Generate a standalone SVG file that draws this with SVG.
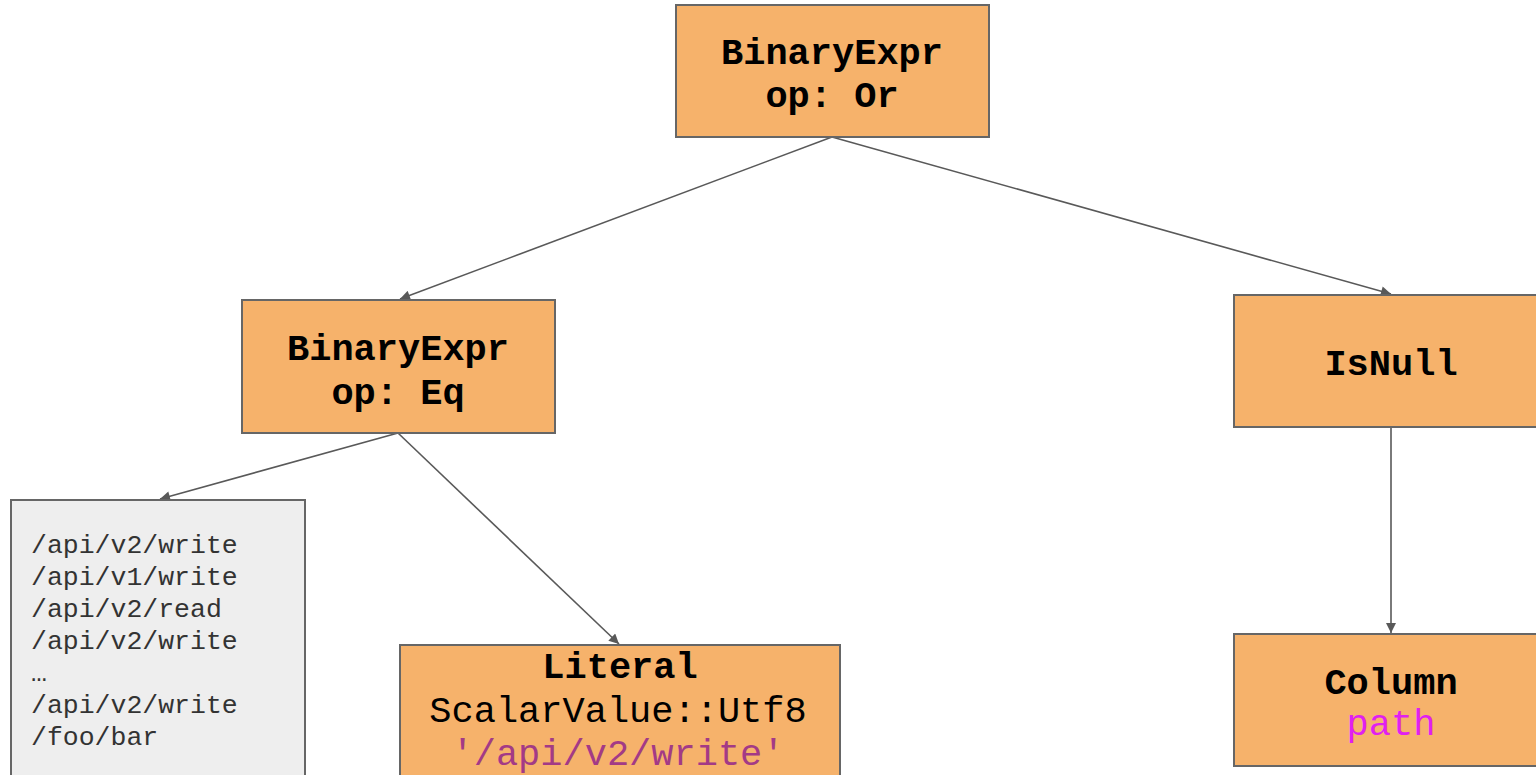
<svg xmlns="http://www.w3.org/2000/svg" width="1536" height="775" viewBox="0 0 1536 775">
<defs>
<style>
.box{fill:#f6b26b;stroke:#666666;stroke-width:2}
.grey{fill:#eeeeee;stroke:#666666;stroke-width:2}
.b{font-family:"Liberation Mono","Courier New",monospace;font-weight:bold;font-size:37px;fill:#000;text-anchor:middle}
.r{font-family:"Liberation Mono","Courier New",monospace;font-size:37px;fill:#000;text-anchor:middle}
.s{font-family:"Liberation Mono","Courier New",monospace;font-size:26.5px;fill:#333333}
.edge{stroke:#595959;stroke-width:1.6;fill:none;marker-end:url(#ah)}
</style>
<marker id="ah" viewBox="0 0 10 10" refX="10" refY="5" markerWidth="11" markerHeight="10" markerUnits="userSpaceOnUse" orient="auto">
<path d="M0,0 L10,5 L0,10 z" fill="#595959"/>
</marker>
</defs>
<rect width="1536" height="775" fill="#ffffff"/>
<g id="connectors">
<line class="edge" x1="832" y1="137" x2="400" y2="299"/>
<line class="edge" x1="832" y1="137" x2="1391" y2="294"/>
<line class="edge" x1="398" y1="433" x2="160" y2="499"/>
<line class="edge" x1="398" y1="433" x2="619" y2="644"/>
<line class="edge" x1="1391" y1="427" x2="1391" y2="633"/>
</g>
<g id="root">
<rect class="box" x="676" y="5" width="313" height="132"/>
<text class="b" x="832" y="64">BinaryExpr</text>
<text class="b" x="832" y="107">op: Or</text>
</g>
<g id="eq">
<rect class="box" x="242" y="300" width="313" height="133"/>
<text class="b" x="398" y="360">BinaryExpr</text>
<text class="b" x="398" y="404">op: Eq</text>
</g>
<g id="isnull">
<rect class="box" x="1234" y="295" width="310" height="132"/>
<text class="b" x="1391" y="375">IsNull</text>
</g>
<g id="column">
<rect class="box" x="1234" y="634" width="310" height="132"/>
<text class="b" x="1391" y="694">Column</text>
<text class="r" x="1391" y="735" style="fill:#e020f0">path</text>
</g>
<g id="literal">
<rect class="box" x="400" y="645" width="440" height="140"/>
<text class="b" x="620" y="678">Literal</text>
<text class="r" x="618" y="722">ScalarValue::Utf8</text>
<text class="r" x="618" y="765" style="fill:#a33a86">'/api/v2/write'</text>
</g>
<g id="values">
<rect class="grey" x="11" y="500" width="294" height="285"/>
<text class="s" x="31" y="553">/api/v2/write</text>
<text class="s" x="31" y="585">/api/v1/write</text>
<text class="s" x="31" y="617">/api/v2/read</text>
<text class="s" x="31" y="649">/api/v2/write</text>
<text class="s" x="31" y="681">…</text>
<text class="s" x="31" y="713">/api/v2/write</text>
<text class="s" x="31" y="745">/foo/bar</text>
</g>
</svg>
